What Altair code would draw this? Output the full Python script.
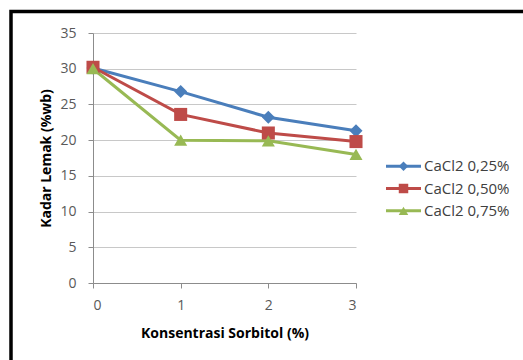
import altair as alt
import pandas as pd

series = ["CaCl2 0,25%", "CaCl2 0,50%", "CaCl2 0,75%"]
sorbitol = [0, 1, 2, 3]
fat_025 = [30.1, 26.8, 23.2, 21.3]
fat_050 = [30.2, 23.6, 21.0, 19.8]
fat_075 = [30.0, 20.0, 19.9, 18.0]
y_ticks = [0, 5, 10, 15, 20, 25, 30, 35]
colors = ["#4A7EBB", "#BE4B48", "#98B954"]
shapes = ["diamond", "square", "triangle-up"]

rows = []
for name, vals in zip(series, [fat_025, fat_050, fat_075]):
    for xv, yv in zip(sorbitol, vals):
        rows.append({"series": name, "x": xv, "y": yv, "order": series.index(name)})
df = pd.DataFrame(rows)
leg = pd.DataFrame({"series": series})

FONT = "Open Sans"
W, H = 263, 250

color = alt.Color("series:N", scale=alt.Scale(domain=series, range=colors), legend=None)
shape = alt.Shape("series:N", scale=alt.Scale(domain=series, range=shapes), legend=None)

xenc = alt.X("x:Q", scale=alt.Scale(domain=[0, 3], nice=False),
             axis=alt.Axis(values=sorbitol, format="d", title="Konsentrasi Sorbitol (%)",
                           grid=False, tickSize=5, labelPadding=10, labelOverlap=False,
                           titleY=50, titleBaseline="middle"))
yenc = alt.Y("y:Q", scale=alt.Scale(domain=[0, 35], nice=False),
             axis=alt.Axis(values=y_ticks, tickCount=8, title="Kadar Lemak (%wb)",
                           tickSize=5, labelPadding=12, labelOverlap=False, labelFlush=False,
                           titleX=-47, titleY=H / 2, titleBaseline="middle"))

base = alt.Chart(df)
lines = base.mark_line(strokeWidth=3).encode(x=xenc, y=yenc, color=color, detail="series:N", order="x:Q")
pts = base.mark_point(filled=True, opacity=1, size=170).encode(x=xenc, y=yenc, color=color, shape=shape,
                                                              order="order:Q")

frame = alt.Chart(pd.DataFrame({"a": [0]})).mark_rect(filled=False, stroke="black", strokeWidth=3.5).encode(
    x=alt.value(-82), x2=alt.value(470), y=alt.value(-21.5), y2=alt.value(400))

ly = alt.Y("series:N", scale=alt.Scale(domain=series, range=[122, 189], padding=0), axis=None)
lbase = alt.Chart(leg)
lrule = lbase.mark_rule(strokeWidth=3).encode(x=alt.value(293), x2=alt.value(328), y=ly, color=color)
lpts = lbase.mark_point(filled=True, opacity=1, size=90).encode(x=alt.value(310.5), y=ly, color=color, shape=shape)
ltext = lbase.mark_text(align="left", baseline="middle", font=FONT, fontSize=15, color="#404040").encode(
    x=alt.value(331), y=ly, text="series:N")

legend = alt.layer(lrule, lpts, ltext)

chart = alt.layer(alt.layer(lines, pts), legend, frame).resolve_scale(y="independent").properties(
    width=W, height=H,
    padding={"left": 93, "top": 33, "right": 167, "bottom": 77},
    autosize=alt.AutoSizeParams(type="none"),
    background="white",
).configure_view(stroke=None).configure_axis(
    labelFont=FONT, labelFontSize=14, labelColor="#595959",
    titleFont=FONT, titleFontSize=14, titleFontWeight="bold", titleColor="#000000",
    domainColor="#8C8C8C", tickColor="#8C8C8C", gridColor="#C8C8C8", domainWidth=1, gridWidth=1,
)

chart.save("out.html", embed_options={"renderer": "svg", "actions": False})
